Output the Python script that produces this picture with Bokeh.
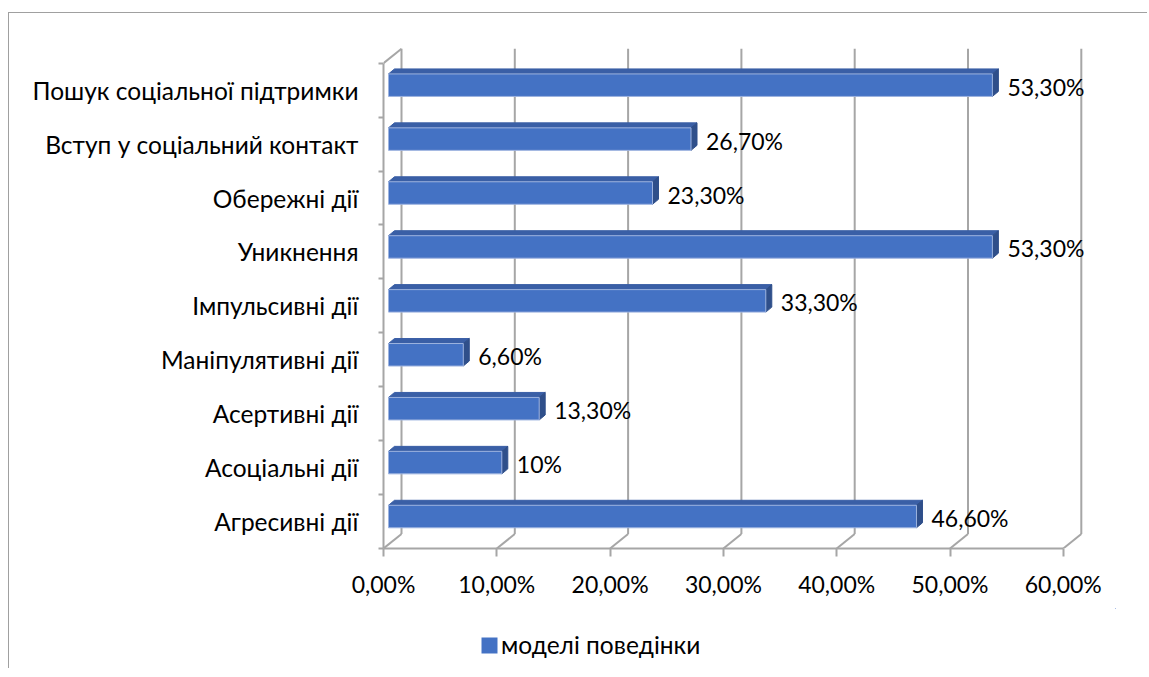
from bokeh.plotting import figure
from bokeh.layouts import column
from bokeh.models import FixedTicker, Legend, LegendItem, Range1d, ColumnDataSource
from bokeh.core.properties import value
from bokeh.embed import file_html
from bokeh.resources import INLINE

# ---------------- data (bottom row first) ----------------
categories = ["Агресивні дії", "Асоціальні дії", "Асертивні дії", "Маніпулятивні дії",
              "Імпульсивні дії", "Уникнення", "Обережні дії",
              "Вступ у соціальний контакт", "Пошук соціальної підтримки"]
values = [46.6, 10.0, 13.3, 6.6, 33.3, 53.3, 23.3, 26.7, 53.3]
value_labels = ["46,60%", "10%", "13,30%", "6,60%", "33,30%", "53,30%", "23,30%", "26,70%", "53,30%"]
x_ticks = [0, 10, 20, 30, 40, 50, 60]
x_tick_labels = ["0,00%", "10,00%", "20,00%", "30,00%", "40,00%", "50,00%", "60,00%"]
series_name = "моделі поведінки"

# ---------------- layout / styling ----------------
FONT = "Lato"
FS = "23px"
FS_CAT = "24.5px"
GRID = "#a6a6a6"
FRONT = "#4472C4"
TOP = "#3A5FA6"
SIDE = "#2F4F8A"
EDGE = "#9db3df"

PX_X = 11.33     # pixels per percent
PX_Y = 53.92     # pixels per category row
FRAME_W, FRAME_H = 732, 523
W = 1138
LEFT, TOP_B, BOTTOM = 374, 12, 60
H = TOP_B + FRAME_H + BOTTOM
RIGHT = W - LEFT - FRAME_W
LEG_H = 60

def ux(px):
    return px / PX_X

def uy(px):
    return px / PX_Y

n = len(categories)
x_max = x_ticks[-1]

p = figure(width=W, height=H, output_backend="svg", toolbar_location=None, title=None,
           x_range=Range1d(0, FRAME_W / PX_X), y_range=Range1d(0, FRAME_H / PX_Y),
           min_border_left=LEFT, min_border_right=RIGHT, min_border_top=TOP_B,
           min_border_bottom=BOTTOM)
p.outline_line_color = None
p.xgrid.visible = False
p.ygrid.visible = False
p.background_fill_color = "white"
p.border_fill_color = "white"

# ---------------- 3D walls ----------------
DX, DY = ux(18), uy(14.5)
p.segment(x0=[t + DX for t in x_ticks], y0=[DY] * len(x_ticks),
          x1=[t + DX for t in x_ticks], y1=[n + DY] * len(x_ticks),
          line_color=GRID, line_width=2)
p.segment(x0=x_ticks, y0=[0] * len(x_ticks),
          x1=[t + DX for t in x_ticks], y1=[DY] * len(x_ticks),
          line_color=GRID, line_width=2)
p.segment(x0=[0], y0=[n], x1=[DX], y1=[n + DY], line_color=GRID, line_width=2)

# ---------------- bars ----------------
BX0 = ux(5)
BOFF = uy(5)
BH = uy(22.5)
SX, SY = ux(6), uy(5)
centers = [i + 0.5 + BOFF for i in range(n)]
lefts = [BX0] * n
rights = [v + BX0 for v in values]
tops = [c + BH / 2 for c in centers]
bots = [c - BH / 2 for c in centers]

top_xs = [[l, r, r + SX, l + SX] for l, r in zip(lefts, rights)]
top_ys = [[t, t, t + SY, t + SY] for t in tops]
side_xs = [[r, r, r + SX, r + SX] for r in rights]
side_ys = [[b, t, t + SY, b + SY] for b, t in zip(bots, tops)]

bar_src = ColumnDataSource(dict(y=centers, left=lefts, right=rights))

p.patches(xs=top_xs, ys=top_ys, fill_color=TOP, line_color=TOP, line_width=1)
p.patches(xs=side_xs, ys=side_ys, fill_color=SIDE, line_color=SIDE, line_width=1)
p.hbar(y="y", left="left", right="right", height=BH, source=bar_src,
       fill_color=FRONT, line_color=EDGE, line_width=1)

# value labels
p.text(x=[r + SX + ux(9) for r in rights], y=[c - uy(1.5) for c in centers],
       text=value_labels, text_font=value(FONT), text_font_size=FS,
       text_color="black", text_align="left", text_baseline="middle")

# ---------------- axes ----------------
xa = p.xaxis[0]
xa.ticker = FixedTicker(ticks=x_ticks)
xa.major_label_overrides = {t: s for t, s in zip(x_ticks, x_tick_labels)}
xa.bounds = (0, x_max)
xa.axis_line_color = GRID
xa.axis_line_width = 2
xa.major_tick_line_color = GRID
xa.major_tick_line_width = 2
xa.major_tick_out = 8
xa.major_tick_in = 0
xa.minor_tick_line_color = None
xa.major_label_standoff = 13
xa.major_label_text_font = FONT
xa.major_label_text_font_size = FS
xa.major_label_text_color = "black"

ya = p.yaxis[0]
ya.ticker = FixedTicker(ticks=[i + 0.5 for i in range(n)], minor_ticks=list(range(n + 1)))
ya.major_label_overrides = {i + 0.5: c for i, c in enumerate(categories)}
ya.bounds = (0, n)
ya.axis_line_color = GRID
ya.axis_line_width = 2
ya.major_tick_line_color = None
ya.major_tick_out = 0
ya.major_tick_in = 0
ya.minor_tick_line_color = GRID
ya.minor_tick_line_width = 2
ya.minor_tick_out = 5
ya.minor_tick_in = 0
ya.major_label_standoff = 20
ya.major_label_text_font = FONT
ya.major_label_text_font_size = FS_CAT
ya.major_label_text_color = "black"

# ---------------- legend (separate strip below the chart) ----------------
# same series drawn into a strip whose ranges hide the bars; only its legend shows
pl = figure(width=W, height=LEG_H, output_backend="svg", toolbar_location=None, title=None,
            x_range=Range1d(-30, -20), y_range=Range1d(-30, -20),
            x_axis_location=None, y_axis_location=None, min_border=0)
pl.outline_line_color = None
pl.xgrid.visible = False
pl.ygrid.visible = False
pl.border_fill_color = "white"
leg_r = pl.hbar(y="y", left="left", right="right", height=BH, source=bar_src,
                fill_color=FRONT, line_color=None)
legend = Legend(items=[LegendItem(label=series_name, renderers=[leg_r])],
                location=(96, 9), orientation="horizontal",
                glyph_width=20, glyph_height=20, label_standoff=2,
                padding=0, margin=0, spacing=0, border_line_color=None,
                background_fill_alpha=0,
                label_text_font=FONT, label_text_font_size=FS_CAT, label_text_color="black")
pl.add_layout(legend)

layout = column(p, pl, spacing=0)
layout.styles = {"margin-top": "12px", "margin-left": "8px",
                 "border-top": "1px solid #a0a0a0", "border-left": "1px solid #a0a0a0"}

open("out.html", "w").write(file_html(layout, INLINE))
